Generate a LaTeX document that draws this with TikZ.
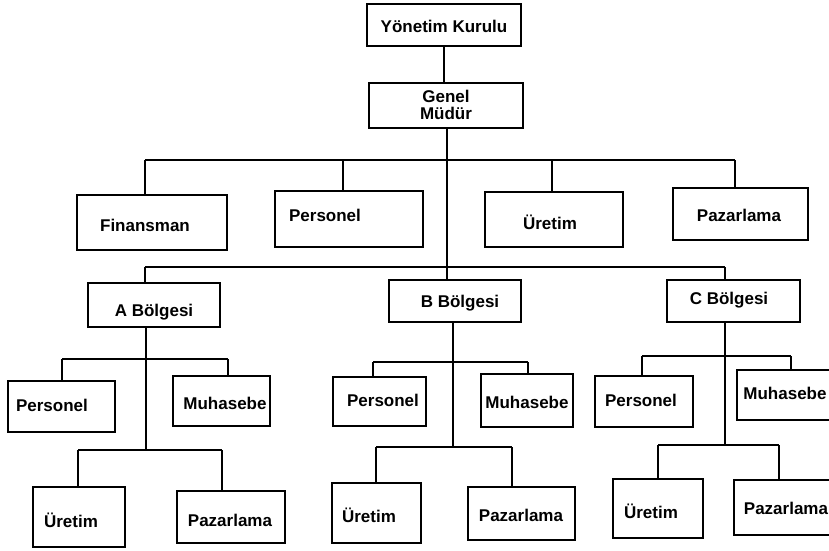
\documentclass[tikz,border=0pt]{standalone}
\usepackage{fontspec}
\setmainfont{Liberation Sans}
\usetikzlibrary{fit}

% box from corner (x1,y1) to (x2,y2), label centred at (tx,ty)
\newcommand\orgbox[8]{%
  \node[box, fit={(#2,#3) (#4,#5)}] (#1) {};
  \node[lbl] (#1-t) at (#6,#7) {#8};}
% vertical drop from a bus point down to a box top
\newcommand\drop[2]{\draw[wire] (#1) -- (#1 |- #2.north);}

\begin{document}
\begin{tikzpicture}[x=1pt,y=-1pt,
  box/.style={draw, line width=1.8pt, inner sep=0pt},
  lbl/.style={font=\bfseries\fontsize{17}{17}\selectfont, inner sep=0pt, align=center},
  wire/.style={line width=2pt}]
\useasboundingbox (0,0) rectangle (829,550);
\clip (0,0) rectangle (829,550);

% top management
\orgbox{yk}{367}{4}{521}{46}{444}{26}{Yönetim Kurulu}
\orgbox{gm}{369}{83}{523}{128}{446}{105}{Genel\\Müdür}

% central departments
\orgbox{fin}{77}{195}{227}{250}{145}{225}{Finansman}
\orgbox{per}{275}{191}{423}{247}{325}{215}{Personel}
\orgbox{ure}{485}{192}{623}{247}{550}{222}{Üretim}
\orgbox{paz}{673}{188}{808}{240}{739}{215}{Pazarlama}

% regions
\orgbox{ab}{88}{283}{220}{327}{154}{312}{A Bölgesi}
\orgbox{bb}{389}{280}{521}{322}{460}{303}{B Bölgesi}
\orgbox{cb}{667}{280}{800}{322}{729}{300}{C Bölgesi}

% region A units
\orgbox{aper}{8}{381}{115}{432}{52}{405}{Personel}
\orgbox{amuh}{173}{376}{270}{426}{225}{403}{Muhasebe}
\orgbox{aure}{33}{487}{125}{547}{71}{520}{Üretim}
\orgbox{apaz}{177}{491}{285}{543}{230}{520}{Pazarlama}

% region B units
\orgbox{bper}{333}{377}{426}{426}{383}{400}{Personel}
\orgbox{bmuh}{481}{374}{573}{427}{527}{402}{Muhasebe}
\orgbox{bure}{332}{483}{421}{543}{369}{515}{Üretim}
\orgbox{bpaz}{468}{487}{575}{540}{521}{515}{Pazarlama}

% region C units
\orgbox{cper}{595}{376}{693}{427}{641}{400}{Personel}
\orgbox{cmuh}{737}{370}{840}{420}{785}{393}{Muhasebe}
\orgbox{cure}{613}{479}{703}{538}{651}{511}{Üretim}
\orgbox{cpaz}{734}{480}{840}{535}{786}{508}{Pazarlama}

% main spine
\coordinate (s0) at (447,0);
\draw[wire] (yk.south) -- (yk.south |- gm.north);
\draw[wire] (gm.south -| s0) -- (bb.north -| s0);

% department bus
\coordinate (d1) at (145,160);
\coordinate (d2) at (343,160);
\coordinate (d3) at (552,160);
\coordinate (d4) at (735,160);
\draw[wire] (d1) -- (d4);
\drop{d1}{fin}\drop{d2}{per}\drop{d3}{ure}\drop{d4}{paz}

% region bus
\coordinate (r1) at (145,267);
\coordinate (r3) at (725,267);
\draw[wire] (r1) -- (r3);
\drop{r1}{ab}\drop{r3}{cb}

% region A tree
\coordinate (a1) at (62,359);
\coordinate (a2) at (228,359);
\coordinate (a3) at (78,450);
\coordinate (a4) at (222,450);
\draw[wire] (ab.south -| 146,0) -- (146,450);
\draw[wire] (a1) -- (a2);
\draw[wire] (a3) -- (a4);
\drop{a1}{aper}\drop{a2}{amuh}\drop{a3}{aure}\drop{a4}{apaz}

% region B tree
\coordinate (b1) at (373,362);
\coordinate (b2) at (528,362);
\coordinate (b3) at (376,447);
\coordinate (b4) at (512,447);
\draw[wire] (bb.south -| 453,0) -- (453,447);
\draw[wire] (b1) -- (b2);
\draw[wire] (b3) -- (b4);
\drop{b1}{bper}\drop{b2}{bmuh}\drop{b3}{bure}\drop{b4}{bpaz}

% region C tree
\coordinate (c1) at (642,356);
\coordinate (c2) at (791,356);
\coordinate (c3) at (658,445);
\coordinate (c4) at (779,445);
\draw[wire] (cb.south -| 725,0) -- (725,445);
\draw[wire] (c1) -- (c2);
\draw[wire] (c3) -- (c4);
\drop{c1}{cper}\drop{c2}{cmuh}\drop{c3}{cure}\drop{c4}{cpaz}
\end{tikzpicture}
\end{document}
